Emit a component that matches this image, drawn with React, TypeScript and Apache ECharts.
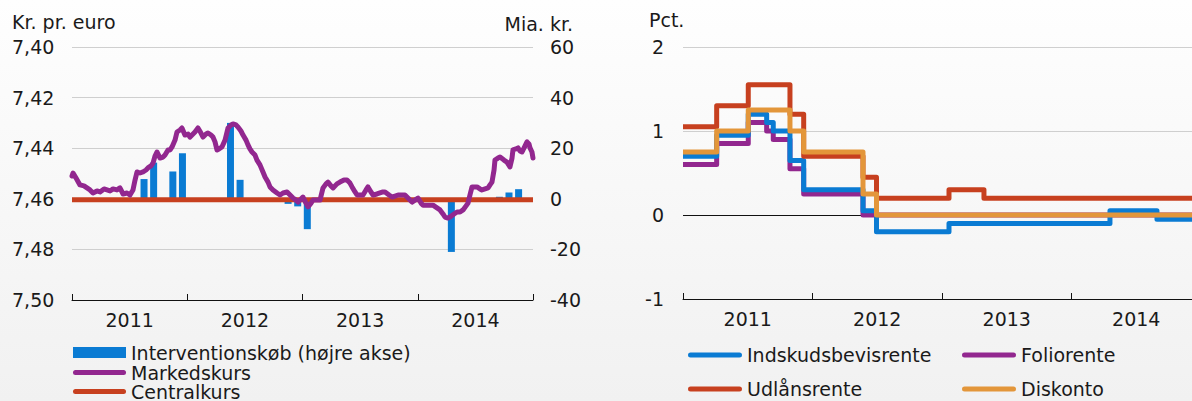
import React, { useEffect, useRef } from 'react';
import * as echarts from 'echarts';

// ---------- data ----------
const years = ['2011', '2012', '2013', '2014'];

// Market rate (kr. per euro), decimal year
const marketT = [
  2011.000, 2011.009, 2011.035, 2011.069, 2011.104, 2011.130, 2011.156, 2011.182, 2011.217, 2011.243,
  2011.278, 2011.304, 2011.330, 2011.356, 2011.390, 2011.416, 2011.443, 2011.477, 2011.503, 2011.529,
  2011.547, 2011.564, 2011.590, 2011.616, 2011.642, 2011.659, 2011.685, 2011.703, 2011.720, 2011.738,
  2011.764, 2011.790, 2011.807, 2011.833, 2011.851, 2011.868, 2011.894, 2011.911, 2011.937, 2011.954,
  2011.980, 2012.007, 2012.024, 2012.050, 2012.067, 2012.093, 2012.119, 2012.137, 2012.163, 2012.180,
  2012.206, 2012.223, 2012.241, 2012.258, 2012.275, 2012.301, 2012.328, 2012.354, 2012.380, 2012.397,
  2012.423, 2012.440, 2012.466, 2012.484, 2012.510, 2012.527, 2012.544, 2012.562, 2012.588, 2012.605,
  2012.631, 2012.657, 2012.675, 2012.701, 2012.718, 2012.744, 2012.779, 2012.805, 2012.831, 2012.866,
  2012.892, 2012.918, 2012.944, 2012.961, 2012.987, 2013.004, 2013.030, 2013.048, 2013.074, 2013.091,
  2013.126, 2013.152, 2013.178, 2013.204, 2013.221, 2013.247, 2013.265, 2013.299, 2013.325, 2013.360,
  2013.386, 2013.412, 2013.430, 2013.456, 2013.473, 2013.499, 2013.525, 2013.551, 2013.568, 2013.594,
  2013.612, 2013.646, 2013.672, 2013.698, 2013.716, 2013.751, 2013.777, 2013.803, 2013.829, 2013.863,
  2013.889, 2013.924, 2013.950, 2013.976, 2014.002, 2014.028, 2014.046, 2014.089, 2014.132, 2014.167,
  2014.193, 2014.219, 2014.236, 2014.262, 2014.280, 2014.315, 2014.341, 2014.367, 2014.393, 2014.419,
  2014.436, 2014.453, 2014.471, 2014.497, 2014.514, 2014.540, 2014.557, 2014.584, 2014.610, 2014.627,
  2014.644, 2014.662, 2014.670, 2014.696, 2014.714, 2014.748, 2014.774, 2014.800, 2014.818, 2014.826,
  2014.852, 2014.870, 2014.887, 2014.905, 2014.931, 2014.948, 2014.965, 2014.974, 2014.991, 2015.000,
];
const marketV = [
  7.4510, 7.4498, 7.4518, 7.4545, 7.4549, 7.4557, 7.4565, 7.4577, 7.4569, 7.4573,
  7.4561, 7.4565, 7.4569, 7.4561, 7.4565, 7.4557, 7.4581, 7.4577, 7.4585, 7.4565,
  7.4526, 7.4494, 7.4498, 7.4494, 7.4486, 7.4478, 7.4470, 7.4459, 7.4431, 7.4415,
  7.4439, 7.4435, 7.4427, 7.4407, 7.4407, 7.4395, 7.4368, 7.4336, 7.4328, 7.4320,
  7.4348, 7.4344, 7.4356, 7.4344, 7.4336, 7.4320, 7.4340, 7.4356, 7.4344, 7.4340,
  7.4348, 7.4356, 7.4375, 7.4407, 7.4403, 7.4395, 7.4368, 7.4320, 7.4308, 7.4304,
  7.4308, 7.4316, 7.4332, 7.4348, 7.4368, 7.4387, 7.4403, 7.4415, 7.4427, 7.4447,
  7.4466, 7.4494, 7.4514, 7.4534, 7.4553, 7.4565, 7.4577, 7.4585, 7.4577, 7.4573,
  7.4585, 7.4597, 7.4605, 7.4613, 7.4601, 7.4593, 7.4617, 7.4632, 7.4617, 7.4605,
  7.4605, 7.4605, 7.4557, 7.4541, 7.4534, 7.4549, 7.4557, 7.4541, 7.4534, 7.4526,
  7.4526, 7.4538, 7.4553, 7.4573, 7.4585, 7.4585, 7.4585, 7.4565, 7.4553, 7.4573,
  7.4585, 7.4581, 7.4577, 7.4573, 7.4573, 7.4585, 7.4593, 7.4589, 7.4585, 7.4585,
  7.4585, 7.4601, 7.4613, 7.4605, 7.4597, 7.4617, 7.4625, 7.4625, 7.4625, 7.4636,
  7.4644, 7.4660, 7.4672, 7.4676, 7.4672, 7.4660, 7.4652, 7.4652, 7.4644, 7.4628,
  7.4617, 7.4585, 7.4553, 7.4553, 7.4553, 7.4561, 7.4565, 7.4561, 7.4557, 7.4545,
  7.4534, 7.4486, 7.4447, 7.4439, 7.4435, 7.4447, 7.4455, 7.4474, 7.4439, 7.4407,
  7.4403, 7.4399, 7.4411, 7.4415, 7.4391, 7.4375, 7.4383, 7.4399, 7.4415, 7.4439,
];

const centralRate = 7.46038;
const periodStart = 2011;
const periodEnd = 2015;

// Intervention purchases, bn kr. (monthly)
const interventionMonths = [
  '2011-08', '2011-09', '2011-11', '2011-12', '2012-05', '2012-06',
  '2012-11', '2012-12', '2013-01', '2014-04', '2014-09', '2014-10', '2014-11',
];
const interventionValues = [7.8, 14.3, 10.8, 18.0, 30.0, 7.5, -2.0, -3.0, -12.0, -21.0, 0.8, 2.5, 3.8];

// Policy rates (pct.), change dates as decimal years
const cdDates = [2011.0, 2011.26, 2011.504, 2011.646, 2011.697, 2011.826, 2011.932, 2012.39, 2012.494, 2013.054, 2014.297, 2014.66, 2015.0];
const cdRates = [0.70, 0.95, 1.20, 1.10, 1.00, 0.65, 0.30, 0.05, -0.20, -0.10, 0.05, -0.05, -0.05];

const folioDates = [2011.0, 2011.26, 2011.504, 2011.646, 2011.697, 2011.826, 2011.932, 2012.39, 2015.0];
const folioRates = [0.60, 0.85, 1.10, 1.00, 0.90, 0.55, 0.25, 0.00, 0.00];

const lendingDates = [2011.0, 2011.26, 2011.504, 2011.826, 2011.932, 2012.39, 2012.494, 2013.054, 2013.324, 2015.0];
const lendingRates = [1.05, 1.30, 1.55, 1.20, 0.70, 0.45, 0.20, 0.30, 0.20, 0.20];

const discountDates = [2011.0, 2011.26, 2011.504, 2011.826, 2011.932, 2012.39, 2012.494, 2015.0];
const discountRates = [0.75, 1.00, 1.25, 1.00, 0.75, 0.25, 0.00, 0.00];

// ---------- styling ----------
const FONT = "'DejaVu Sans', 'Noto Sans', sans-serif";
const FS = 19;
const TEXT = '#1a1a1a';
const BLUE = '#0a7bd3';
const PURPLE = '#92278f';
const RED = '#c7401f';
const ORANGE = '#e3963a';
const GRID = '#cfcfcf';

const LINE_ICON = 'path://M2.5,0 H50.5 A2.5,2.5 0 0 1 50.5,5 H2.5 A2.5,2.5 0 0 1 2.5,0 Z';

const zip = (a: number[], b: number[]) => a.map((v, i) => [v, b[i]]);
const monthMid = (m: string) => {
  const [y, mo] = m.split('-').map(Number);
  return y + (mo - 0.5) / 12;
};

export default function App() {
  const ref = useRef<HTMLDivElement>(null);

  useEffect(() => {
    if (!ref.current) return;
    const chart = echarts.init(ref.current, undefined, { renderer: 'svg' });

    const labelStyle = { fontFamily: FONT, fontSize: FS, color: TEXT };
    const catAxis = (gridIndex: number) => ({
      type: 'category',
      gridIndex,
      position: 'bottom',
      data: years,
      boundaryGap: true,
      axisLine: { show: true, lineStyle: { color: '#111', width: 1 } },
      axisTick: { show: true, inside: true, length: 6, lineStyle: { color: '#111', width: 1 } },
      axisLabel: { ...labelStyle, margin: 10 },
      splitLine: { show: false },
    });
    const legendText = { fontFamily: FONT, fontSize: FS, color: TEXT, lineHeight: 20 };
    const lineLegend = (name: string, left: number, top: number, w: number, lh = 20) => ({
      left, top, padding: 0, itemWidth: w, itemHeight: 5, textStyle: { ...legendText, lineHeight: lh },
      symbolKeepAspect: false, data: [{ name, icon: LINE_ICON }],
    });

    const option: any = {
      animation: false,
      backgroundColor: 'transparent',
      textStyle: { fontFamily: FONT },
      grid: [
        { left: 72, top: 47, width: 461, height: 253 },
        { left: 683, top: 47, width: 518, height: 252 },
      ],
      xAxis: [
        { type: 'value', gridIndex: 0, position: 'bottom', min: periodStart, max: periodEnd, show: false },
        catAxis(0),
        { type: 'value', gridIndex: 1, position: 'bottom', min: periodStart, max: periodEnd, show: false },
        catAxis(1),
      ],
      yAxis: [
        {
          type: 'value', gridIndex: 0, position: 'left', min: 7.40, max: 7.50, interval: 0.02, inverse: true,
          axisLine: { show: false }, axisTick: { show: false },
          axisLabel: { ...labelStyle, align: 'left', margin: 60, formatter: (v: number) => v.toFixed(2).replace('.', ',') },
          splitLine: { show: true, lineStyle: { color: GRID, width: 1 } },
        },
        {
          type: 'value', gridIndex: 0, position: 'right', min: -40, max: 60, interval: 20,
          axisLine: { show: false }, axisTick: { show: false },
          axisLabel: { ...labelStyle, align: 'left', margin: 17 },
          splitLine: { show: false },
        },
        {
          type: 'value', gridIndex: 1, position: 'left', min: -1, max: 2, interval: 1,
          axisLine: { show: false }, axisTick: { show: false },
          axisLabel: { ...labelStyle, margin: 19 },
          splitLine: { show: true, lineStyle: { color: [GRID, '#111', GRID, GRID], width: 1 } },
        },
      ],
      legend: [
        {
          left: 73, top: 343, padding: 0, itemWidth: 53, itemHeight: 11, textStyle: { ...legendText, lineHeight: 19 },
          data: [{ name: 'Interventionskøb (højre akse)', icon: 'rect' }],
        },
        lineLegend('Markedskurs', 73, 363, 53, 19),
        lineLegend('Centralkurs', 73, 382, 53, 19),
        lineLegend('Indskudsbevisrente', 688, 345, 54),
        lineLegend('Udlånsrente', 688, 379, 54),
        lineLegend('Foliorente', 962, 345, 54),
        lineLegend('Diskonto', 962, 379, 54),
      ],
      graphic: [
        { type: 'text', left: 12, top: 12, style: { text: 'Kr. pr. euro', fontFamily: FONT, fontSize: FS, fill: TEXT } },
        { type: 'text', right: 1210 - 573, top: 14, style: { text: 'Mia. kr.', fontFamily: FONT, fontSize: FS, fill: TEXT } },
        { type: 'text', left: 649, top: 10, style: { text: 'Pct.', fontFamily: FONT, fontSize: FS, fill: TEXT } },
      ],
      series: [
        {
          type: 'bar', name: 'Interventionskøb (højre akse)', xAxisIndex: 0, yAxisIndex: 1,
          data: interventionMonths.map((m, i) => [monthMid(m), interventionValues[i]]),
          barWidth: 7, itemStyle: { color: BLUE }, z: 2,
        },
        {
          type: 'line', name: 'Centralkurs', xAxisIndex: 0, yAxisIndex: 0,
          data: [[periodStart, centralRate], [periodEnd, centralRate]],
          symbol: 'none', itemStyle: { color: RED }, lineStyle: { color: RED, width: 5 }, z: 3,
        },
        {
          type: 'line', name: 'Markedskurs', xAxisIndex: 0, yAxisIndex: 0,
          data: zip(marketT, marketV),
          symbol: 'none', itemStyle: { color: PURPLE }, lineStyle: { color: PURPLE, width: 5, join: 'round', cap: 'round' }, z: 4,
        },
        {
          type: 'line', name: 'Foliorente', xAxisIndex: 2, yAxisIndex: 2, step: 'end',
          data: zip(folioDates, folioRates),
          symbol: 'none', itemStyle: { color: PURPLE }, lineStyle: { color: PURPLE, width: 5, join: 'round' }, z: 2,
        },
        {
          type: 'line', name: 'Indskudsbevisrente', xAxisIndex: 2, yAxisIndex: 2, step: 'end',
          data: zip(cdDates, cdRates),
          symbol: 'none', itemStyle: { color: BLUE }, lineStyle: { color: BLUE, width: 5, join: 'round' }, z: 3,
        },
        {
          type: 'line', name: 'Udlånsrente', xAxisIndex: 2, yAxisIndex: 2, step: 'end',
          data: zip(lendingDates, lendingRates),
          symbol: 'none', itemStyle: { color: RED }, lineStyle: { color: RED, width: 5, join: 'round' }, z: 4,
        },
        {
          type: 'line', name: 'Diskonto', xAxisIndex: 2, yAxisIndex: 2, step: 'end',
          data: zip(discountDates, discountRates),
          symbol: 'none', itemStyle: { color: ORANGE }, lineStyle: { color: ORANGE, width: 5, join: 'round' }, z: 5,
        },
      ],
    };

    chart.setOption(option);
    return () => chart.dispose();
  }, []);

  return (
    <div
      style={{
        position: 'absolute', left: 0, top: 0, width: 1192, height: 401, overflow: 'hidden',
        background: 'linear-gradient(180deg, #fefefe 0%, #f1f1f1 100%)',
      }}
    >
      <div ref={ref} style={{ width: 1210, height: 401 }} />
    </div>
  );
}
